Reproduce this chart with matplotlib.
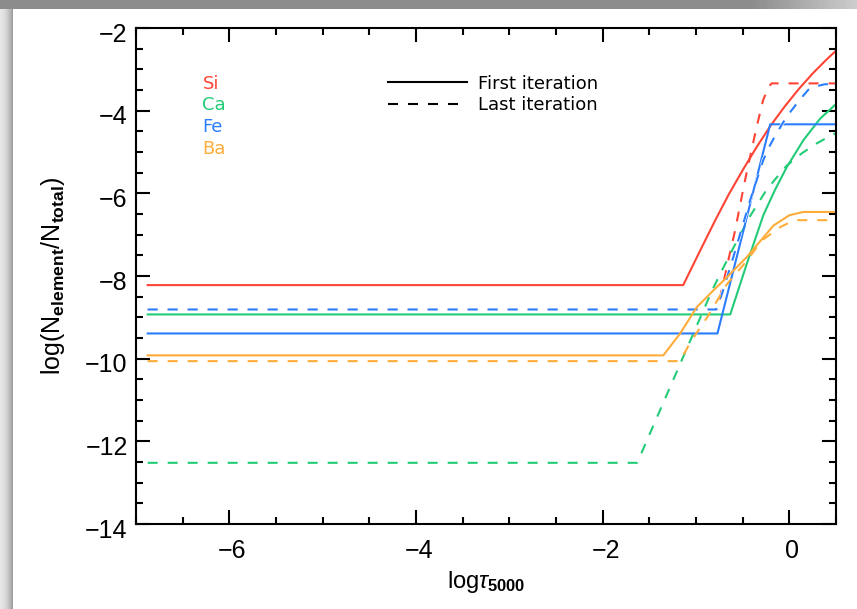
import matplotlib
matplotlib.use("Agg")
import matplotlib.pyplot as plt
import matplotlib.transforms as mtransforms
import matplotlib.patheffects as pe
from matplotlib.lines import Line2D
from matplotlib.ticker import MultipleLocator
import numpy as np

plt.rcParams['font.family'] = ['Liberation Sans', 'DejaVu Sans']
plt.rcParams['mathtext.fontset'] = 'custom'
plt.rcParams['mathtext.rm'] = 'Liberation Sans'
plt.rcParams['mathtext.it'] = 'Liberation Sans:italic'
plt.rcParams['mathtext.bf'] = 'Liberation Sans:bold'

# depth scale and abundance profiles, first and last iteration
si_first_x = [-6.875, -1.137, -0.95, -0.8, -0.65, -0.5, -0.35, -0.2, -0.05, 0.1, 0.25, 0.4, 0.5]
si_first_y = [-8.22, -8.22, -7.36, -6.68, -6.03, -5.44, -4.88, -4.36, -3.9, -3.48, -3.1, -2.76, -2.55]
si_last_x = [-6.875, -0.77, -0.63, -0.58, -0.51, -0.455, -0.35, -0.28, -0.22, -0.19, 0.5]
si_last_y = [-8.81, -8.81, -7.38, -6.89, -6.08, -5.47, -4.39, -3.74, -3.42, -3.34, -3.34]

ca_first_x = [-6.875, -0.633, -0.455, -0.277, -0.15, -0.026, 0.152, 0.331, 0.5]
ca_first_y = [-8.93, -8.93, -7.70, -6.52, -5.9, -5.36, -4.71, -4.19, -3.84]
ca_last_x = [-6.875, -1.63, -0.83, -0.71, -0.60, -0.42, -0.24, -0.033, 0.135, 0.295, 0.47, 0.5]
ca_last_y = [-12.52, -12.52, -8.36, -7.81, -7.32, -6.55, -5.9, -5.34, -5.03, -4.79, -4.57, -4.55]

fe_first_x = [-6.875, -0.77, -0.205, 0.5]
fe_first_y = [-9.39, -9.39, -4.33, -4.33]
fe_last_x = [-6.875, -0.784, -0.72, -0.60, -0.419, -0.28, -0.21, -0.15, -0.03, 0.11, 0.22, 0.38, 0.5]
fe_last_y = [-8.81, -8.81, -8.42, -7.54, -6.16, -5.2, -4.85, -4.6, -4.15, -3.74, -3.45, -3.36, -3.36]

ba_first_x = [-6.875, -1.35, -1.17, -0.99, -0.81, -0.70, -0.455, -0.17, 0.0, 0.15, 0.5]
ba_first_y = [-9.92, -9.92, -9.39, -8.75, -8.34, -8.10, -7.54, -6.78, -6.53, -6.45, -6.45]
ba_last_x = [-6.875, -1.17, -1.06, -0.88, -0.67, -0.45, -0.3, -0.1, 0.05, 0.5]
ba_last_y = [-10.06, -10.06, -9.6, -9.0, -8.2, -7.62, -7.15, -6.82, -6.65, -6.65]

elements = ['Si', 'Ca', 'Fe', 'Ba']
colors = ['#ff4436', '#22cc77', '#2a7dff', '#ffad3a']
first_x = [si_first_x, ca_first_x, fe_first_x, ba_first_x]
first_y = [si_first_y, ca_first_y, fe_first_y, ba_first_y]
last_x = [si_last_x, ca_last_x, fe_last_x, ba_last_x]
last_y = [si_last_y, ca_last_y, fe_last_y, ba_last_y]

dash = (4.8, 4.8)
lw = 1.5

fig = plt.figure(figsize=(8.57, 6.09), dpi=100)

# grey frame strips along the top and left edges
top_strip = fig.add_axes([0, 1 - 9 / 609, 1, 9 / 609])
grad = np.linspace(0, 1, 256)
top_vals = 0.55 + 0.25 * np.clip((grad - 0.88) / 0.12, 0, 1)
top_strip.imshow(np.tile(top_vals, (2, 1)), cmap='gray', vmin=0, vmax=1, aspect='auto')
top_strip.axis('off')
left_strip = fig.add_axes([0, 0, 13 / 857, 1 - 9 / 609])
left_vals = 0.9 - 0.3 * grad ** 2
left_strip.imshow(np.tile(left_vals, (2, 1)), cmap='gray', vmin=0, vmax=1, aspect='auto')
left_strip.axis('off')

ax = fig.add_axes([136 / 857, 1 - 524 / 609, 700 / 857, 496 / 609])

for i, el in enumerate(elements):
    ax.plot(first_x[i], first_y[i], color=colors[i], lw=lw)
    line, = ax.plot(last_x[i], last_y[i], color=colors[i], lw=lw, dashes=dash)
    if el == 'Fe':
        # Fe last iteration sits right on top of Si; thin white edge keeps it clean
        line.set_path_effects([pe.Stroke(linewidth=lw + 0.9, foreground='white'), pe.Normal()])

ax.set_xlim(-7, 0.5)
ax.set_ylim(-14, -2)
ax.xaxis.set_major_locator(MultipleLocator(2))
ax.xaxis.set_minor_locator(MultipleLocator(0.5))
ax.yaxis.set_major_locator(MultipleLocator(2))
ax.yaxis.set_minor_locator(MultipleLocator(0.5))
ax.tick_params(which='both', direction='in', top=True, right=True, width=1.5)
ax.tick_params(which='major', length=10, labelsize=18)
ax.tick_params(axis='y', which='major', pad=6)
ax.tick_params(axis='x', which='major', pad=11)
ax.tick_params(which='minor', length=5)
for sp in ax.spines.values():
    sp.set_linewidth(1.5)

# nudge tick labels the way the original plotting package places them
shift_y = mtransforms.ScaledTranslation(0, -4 / 100, fig.dpi_scale_trans)
for lab in ax.get_yticklabels():
    lab.set_transform(lab.get_transform() + shift_y)
shift_x = mtransforms.ScaledTranslation(3 / 100, 0, fig.dpi_scale_trans)
for lab in ax.get_xticklabels():
    lab.set_transform(lab.get_transform() + shift_x)

ax.set_xlabel(r'$\mathrm{log}\tau_{\mathbf{5000}}$', fontsize=17, labelpad=4)
ax.set_ylabel(r'$\mathrm{log(N_{\mathbf{element}}/N_{\mathbf{total}})}$', fontsize=18, labelpad=13)

# element names in their line colours
name_handles = [Line2D([], [], alpha=0) for _ in elements]
leg1 = ax.legend(name_handles, elements, loc='upper left', bbox_to_anchor=(0.082, 0.924),
                 frameon=False, handlelength=0, handletextpad=0, borderpad=0,
                 labelspacing=0.2, labelcolor=colors,
                 prop={'family': 'DejaVu Sans', 'size': 13})
ax.add_artist(leg1)

style_handles = [Line2D([], [], color='black', lw=lw),
                 Line2D([], [], color='black', lw=lw, dashes=dash)]
ax.legend(style_handles, ['First iteration', 'Last iteration'], loc='upper left',
          bbox_to_anchor=(0.347, 0.924), frameon=False, handlelength=4.4,
          handletextpad=0.6, borderpad=0, labelspacing=0.2,
          prop={'family': 'DejaVu Sans', 'size': 13})

fig.savefig('out.png', dpi=100)
